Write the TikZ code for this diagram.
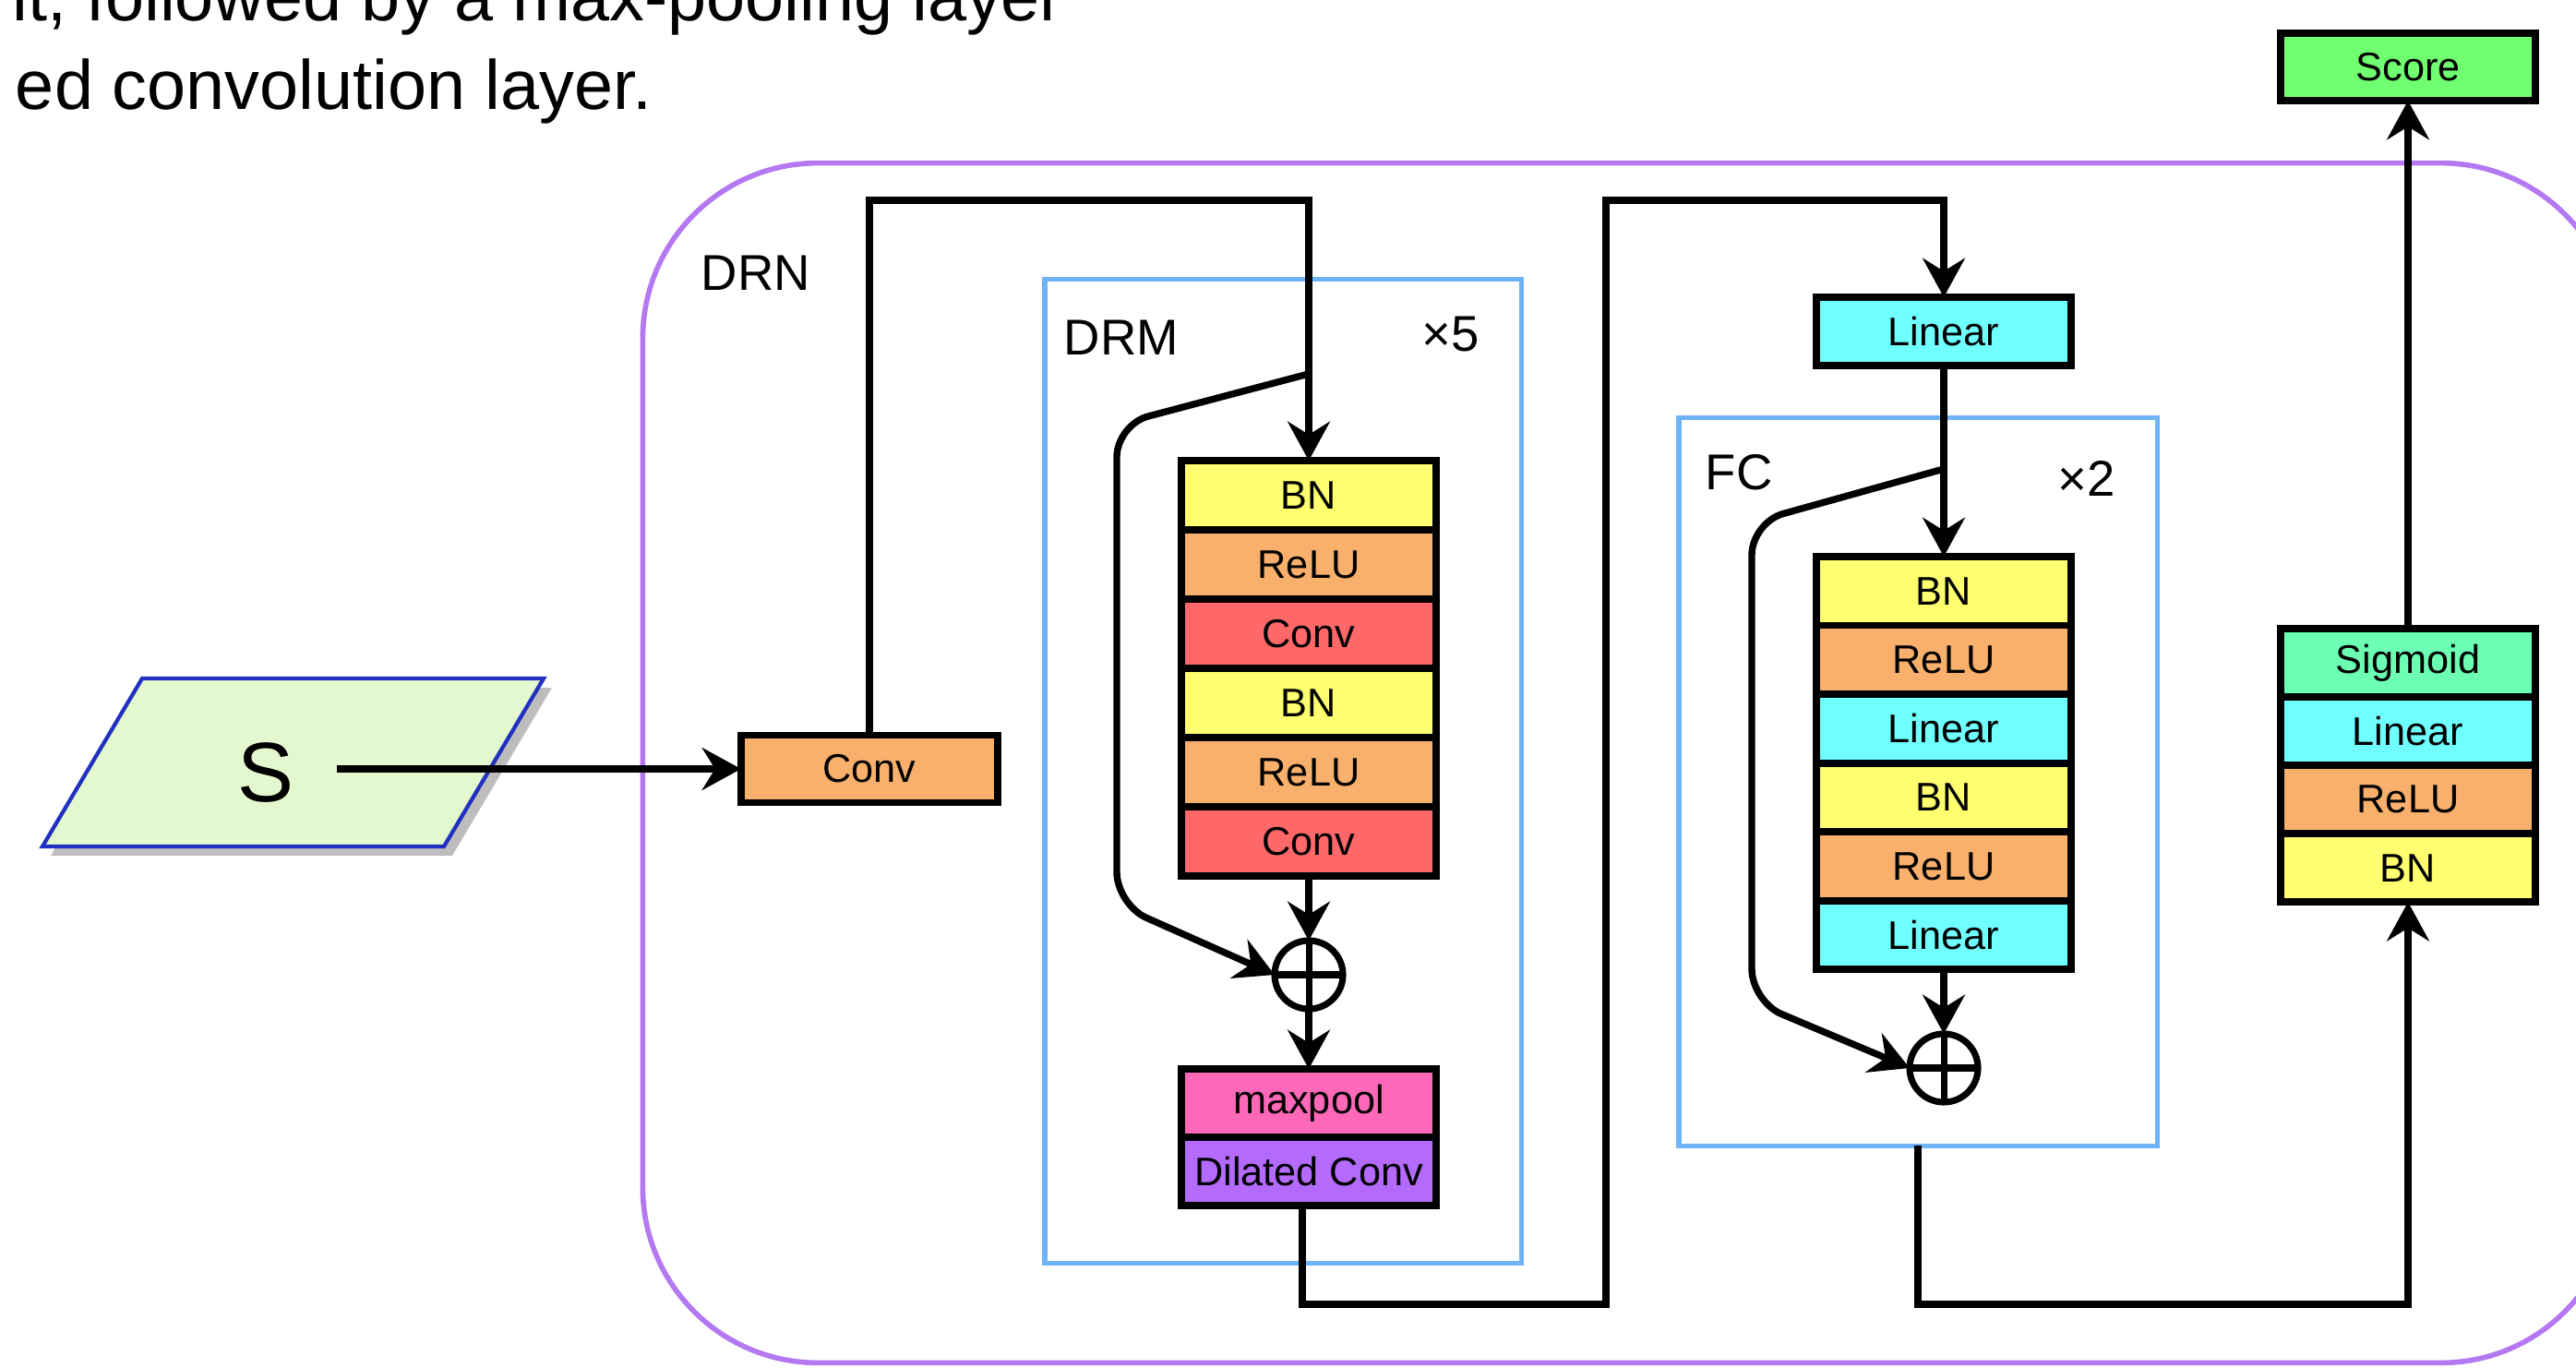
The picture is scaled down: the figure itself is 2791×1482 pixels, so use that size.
\documentclass[tikz,border=0pt]{standalone}
\usepackage{fontspec}
\setmainfont{Liberation Sans}
\usetikzlibrary{arrows.meta,calc}
\definecolor{sgreen}{HTML}{E4F8CF}
\definecolor{sblue}{HTML}{2030C0}
\definecolor{shadowgray}{HTML}{BDBDBD}
\definecolor{drnpurple}{HTML}{B478F2}
\definecolor{grpblue}{HTML}{6FB3F7}
\definecolor{cbn}{HTML}{FFFF70}
\definecolor{crelu}{HTML}{F9B06C}
\definecolor{cconv}{HTML}{FF6868}
\definecolor{cmp}{HTML}{FF68B8}
\definecolor{cdil}{HTML}{B46AFC}
\definecolor{clin}{HTML}{70FFFF}
\definecolor{csig}{HTML}{6CFFB4}
\definecolor{cscore}{HTML}{70FF70}
\begin{document}
\begin{tikzpicture}[x=0.01cm,y=-0.01cm,
  layer/.style={draw=black, line width=2.2pt, minimum width=2.76cm, minimum height=0.75cm,
    inner sep=0pt, outer sep=0pt, font=\fontsize{12.3}{14}\selectfont},
  conn/.style={line width=2.1pt, draw=black},
  arr/.style={conn, -{Stealth[length=12pt,width=13pt,inset=4pt]}},
  grp/.style={draw=grpblue, line width=1.5pt, inner sep=0pt, outer sep=0pt},
  lbl/.style={font=\fontsize{15.5}{18}\selectfont, inner sep=0pt},
  plus/.style={circle, draw, line width=2pt, minimum size=0.74cm, inner sep=0pt, outer sep=0pt,
    path picture={\draw[line width=2pt] (path picture bounding box.north) -- (path picture bounding box.south)
      (path picture bounding box.west) -- (path picture bounding box.east);}},
  toptext/.style={font=\fontsize{21.5}{26}\selectfont, inner sep=0pt, anchor=base east}
]
\useasboundingbox (0,0) rectangle (2791,1482);
\clip (0,0) rectangle (2791,1482);

% top text
\node[toptext] (tx1) at (1153,23) {it, followed by a max-pooling layer};
\node[toptext] (tx2) at (707,119) {ed convolution layer.};

% DRN container
\node[draw=drnpurple, line width=1.6pt, rounded corners=54pt, minimum width=21.37cm,
  minimum height=12.99cm, inner sep=0pt, outer sep=0pt] (drn) at (1765.5,826.5) {};
\node[lbl] (drnl) at (819,296) {DRN};

% group boxes
\node[grp, minimum width=5.16cm, minimum height=10.65cm] (drmbox) at (1390,835.5) {};
\node[lbl] (drml) at (1215,366) {DRM};
\node[lbl] (drmx) at (1572,362) {×5};
\node[grp, minimum width=5.18cm, minimum height=7.88cm] (fcbox) at (2078,847) {};
\node[lbl] (fcl) at (1884,512) {FC};
\node[lbl] (fcx) at (2261,518) {×2};

% input parallelogram
\fill[shadowgray] (163,745) -- (598,745) -- (490,927) -- (55,927) -- cycle;
\filldraw[fill=sgreen, draw=sblue, line width=1.2pt] (154,735) -- (589,735) -- (481,917) -- (46,917) -- cycle;
\node[font=\fontsize{26}{30}\selectfont, inner sep=0pt] (s) at (288,837) {S};
\coordinate (sout) at (365,833);

% Conv
\node[layer, fill=crelu, minimum width=2.78cm, minimum height=0.73cm] (conv) at (942,833) {Conv};

% DRM stack
\node[layer, fill=cbn, anchor=north] (d1) at (1418,499) {BN};
\node[layer, fill=crelu, anchor=north] (d2) at (d1.south) {ReLU};
\node[layer, fill=cconv, anchor=north] (d3) at (d2.south) {Conv};
\node[layer, fill=cbn, anchor=north] (d4) at (d3.south) {BN};
\node[layer, fill=crelu, anchor=north] (d5) at (d4.south) {ReLU};
\node[layer, fill=cconv, anchor=north] (d6) at (d5.south) {Conv};
\node[plus] (p1) at (1418,1056) {};
\node[layer, fill=cmp, anchor=north, minimum height=0.74cm] (mp) at (1418,1158) {maxpool};
\node[layer, fill=cdil, anchor=north, minimum height=0.74cm] (dil) at (mp.south) {Dilated Conv};

% FC part
\node[layer, fill=clin, anchor=north, minimum height=0.74cm] (f0) at (2106,322) {Linear};
\node[layer, fill=cbn, anchor=north, minimum height=0.745cm] (f1) at (2106,603) {BN};
\node[layer, fill=crelu, anchor=north, minimum height=0.745cm] (f2) at (f1.south) {ReLU};
\node[layer, fill=clin, anchor=north, minimum height=0.745cm] (f3) at (f2.south) {Linear};
\node[layer, fill=cbn, anchor=north, minimum height=0.745cm] (f4) at (f3.south) {BN};
\node[layer, fill=crelu, anchor=north, minimum height=0.745cm] (f5) at (f4.south) {ReLU};
\node[layer, fill=clin, anchor=north, minimum height=0.745cm] (f6) at (f5.south) {Linear};
\node[plus] (p2) at (2106,1157) {};

% output stack
\node[layer, fill=csig, anchor=north, minimum height=0.74cm] (sig) at (2609,681) {Sigmoid};
\node[layer, fill=clin, anchor=north, minimum height=0.74cm] (olin) at (sig.south) {Linear};
\node[layer, fill=crelu, anchor=north, minimum height=0.74cm] (orelu) at (olin.south) {ReLU};
\node[layer, fill=cbn, anchor=north, minimum height=0.74cm] (obn) at (orelu.south) {BN};
\node[layer, fill=cscore, anchor=north, minimum height=0.73cm] (score) at (2609,36) {Score};

% route coordinates
\coordinate (t1) at (1418,217);
\coordinate (k1) at (1418,405);
\coordinate (k1a) at (1210,460);
\coordinate (k1b) at (1210,980);
\coordinate (b1) at (1740,1413);
\coordinate (t2) at (2106,217);
\coordinate (k2) at (2106,508);
\coordinate (k2a) at (1898,566);
\coordinate (k2b) at (1898,1085);
\coordinate (b2) at (2609,1413);

% connectors
\draw[arr] (sout) -- (conv.west);
\draw[arr] (conv.north) |- (t1) -- (d1.north);
\draw[arr, rounded corners=10pt] (k1) -- (k1a) -- (k1b) -- (p1.west);
\draw[arr] (d6.south) -- (p1.north);
\draw[arr] (p1.south) -- (mp.north);
\draw[arr] ($(dil.south)+(-7,0)$) |- (b1) |- (t2) -- (f0.north);
\draw[arr] (f0.south) -- (f1.north);
\draw[arr, rounded corners=10pt] (k2) -- (k2a) -- (k2b) -- (p2.west);
\draw[arr] (f6.south) -- (p2.north);
\draw[arr] (fcbox.south) |- (b2) -- (obn.south);
\draw[arr] (sig.north) -- (score.south);
\end{tikzpicture}
\end{document}
